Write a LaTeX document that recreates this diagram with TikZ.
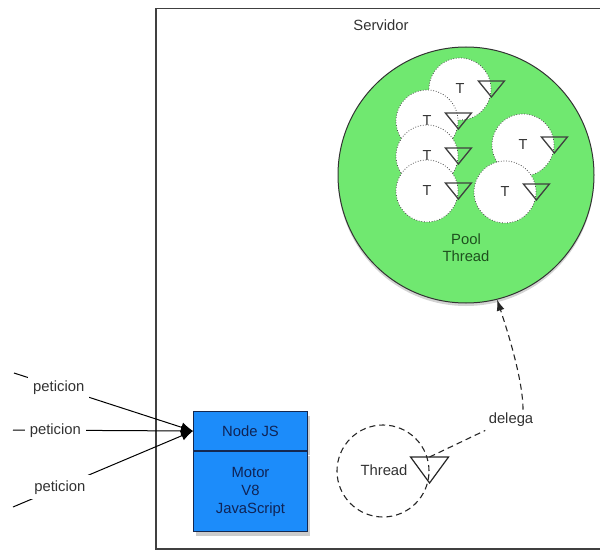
\documentclass[tikz,border=0pt]{standalone}
\usepackage{fontspec}
\setmainfont{Liberation Sans}
\usetikzlibrary{arrows.meta,shadows}
\definecolor{poolgreen}{RGB}{112,232,112}
\definecolor{pooltext}{RGB}{30,80,30}
\definecolor{jsblue}{RGB}{28,140,250}
\definecolor{jsline}{RGB}{20,40,80}
\definecolor{jstext}{RGB}{15,35,85}
\definecolor{labtext}{RGB}{50,50,50}
\newcommand\smallthread[2]{%
  \node[tcirc] (#1) at (#2) {};
  \node[ttext] (#1t) at (#1.center) {T};
  \coordinate (#1e) at (#1.east);
  \draw[tri] ([shift={(-13,-8)}]#1e) -- ++(26,0) -- ++(-13,16) -- cycle;
}
\begin{document}
\begin{tikzpicture}[x=1pt,y=-1pt,
  lab/.style={font=\fontsize{14.8}{17}\selectfont, text=labtext},
  tcirc/.style={circle, minimum size=62pt, inner sep=0pt, fill=white, draw=black!70, line width=0.8pt, dash pattern=on 0.8pt off 1.8pt},
  ttext/.style={font=\fontsize{14.5}{16}\selectfont, text=black!80},
  tri/.style={draw=black!75, line width=1.3pt, line join=miter},
  bluebox/.style={draw=jsline, line width=1pt, fill=jsblue, text=jstext, font=\fontsize{14.8}{18}\selectfont, align=center, minimum width=114pt, inner sep=0pt},
  req/.style={line width=1pt, -{Latex[length=12pt,width=10pt]}},
  dashline/.style={line width=1.1pt, dash pattern=on 6pt off 4pt, draw=black!85}
]
\useasboundingbox (0,0) rectangle (600,551);
% server
\node[draw=black!75, line width=1.5pt, minimum width=460pt, minimum height=540pt, anchor=north west, inner sep=0pt] (srv) at (155,8) {};
\node[lab] (srvlab) at (381,25) {Servidor};
% pool
\node[circle, minimum size=256pt, inner sep=0pt, fill=poolgreen, draw=black!80, line width=1pt,
      drop shadow={shadow xshift=0pt, shadow yshift=-3pt, opacity=0.35}] (pool) at (466,175) {};
\node[font=\fontsize{14.8}{17}\selectfont, text=pooltext, align=center] (poollab) at (466,248) {Pool\\Thread};
\smallthread{c1}{460,89}
\smallthread{c2}{427,121}
\smallthread{c3}{427,156}
\smallthread{c4}{427,191}
\smallthread{c5}{523,145}
\smallthread{c6}{505,192}
% Node JS box
\node[bluebox, minimum height=39pt, anchor=north west,
      drop shadow={shadow xshift=2pt, shadow yshift=-4pt, opacity=0.4}] (njs) at (193,411) {Node JS};
\node[bluebox, minimum height=80pt, anchor=north,
      drop shadow={shadow xshift=2pt, shadow yshift=-4pt, opacity=0.4}] (motor) at (njs.south) {Motor\\V8\\JavaScript};
% requests
\coordinate (p1) at (14,373);
\coordinate (p2) at (13,430);
\coordinate (p3) at (13,507);
\draw[req] (p1) -- node[lab, fill=white, inner sep=5pt, pos=0.25] (r1) {peticion} (njs.west);
\draw[req] (p2) -- node[lab, fill=white, inner sep=5pt, pos=0.235] (r2) {peticion} (njs.west);
\draw[req] (p3) -- node[lab, fill=white, inner sep=5pt, pos=0.26] (r3) {peticion} (njs.west);
% thread
\node[circle, minimum size=92pt, inner sep=0pt, dashline] (th) at (383,471) {};
\node[lab] (thlab) at (384,470) {Thread};
\coordinate (the) at (th.east);
\draw[line width=1.2pt, draw=black!85] ([shift={(-19,-14)}]the) -- ++(38,0) -- ++(-19,26) -- cycle;
\coordinate (thtop) at ([yshift=14pt]the);
\node[lab] (delega) at (511,420) {delega};
\draw[dashline] (thtop) -- (delega.south west);
\draw[dashline, -{Latex[length=11pt,width=8pt]}] ([xshift=12pt]delega.north) .. controls +(0,-30) and +(10,30) .. (pool.-76);
\end{tikzpicture}
\end{document}
